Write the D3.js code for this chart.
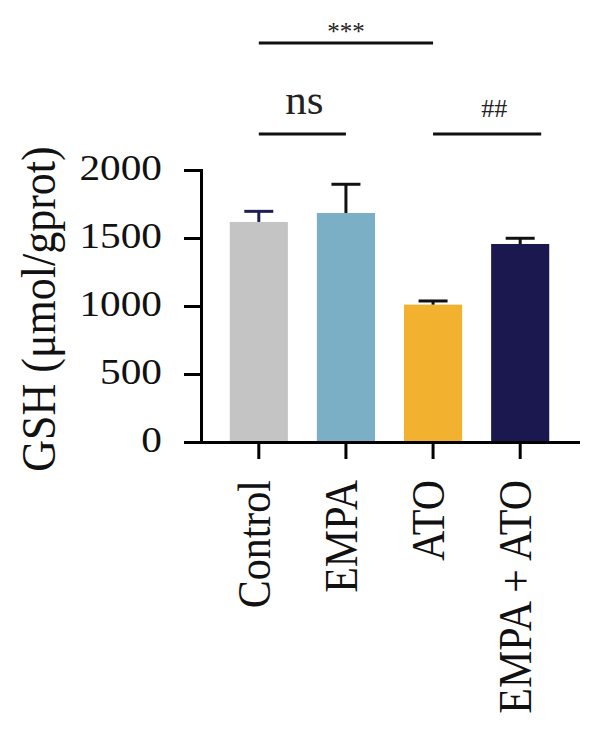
<!DOCTYPE html>
<html>
<head>
<meta charset="utf-8">
<script src="https://cdn.jsdelivr.net/npm/d3@7"></script>
<style>
  body { margin: 0; background: #fff; }
  svg { display: block; }
</style>
</head>
<body>
<div id="chart"></div>
<script>
// values
var groups = ["Control", "EMPA", "ATO", "EMPA + ATO"];
var means = [1618, 1684, 1010, 1456];
var sems = [78, 211, 27, 42];
var barColors = ["#c4c4c4", "#7aafc6", "#f2b12f", "#1b1850"];
var errColors = ["#1f1f55", "#111111", "#111111", "#111111"];
var yTicks = [0, 500, 1000, 1500, 2000];
var sigPairs = [["Control", "ATO"], ["Control", "EMPA"], ["ATO", "EMPA + ATO"]];
var sigLabels = ["***", "ns", "##"];

var width = 600, height = 752;
var font = "'Liberation Serif', 'Times New Roman', serif";

var svg = d3.select("#chart").append("svg")
    .attr("width", width)
    .attr("height", height);

svg.append("rect").attr("width", width).attr("height", height).attr("fill", "#fff");

var x = d3.scaleBand()
    .domain(groups)
    .range([201, 578])
    .paddingInner(0.333)
    .paddingOuter(0.33);

var y = d3.scaleLinear()
    .domain([0, 2000])
    .range([442, 170]);

var data = groups.map(function(g, i) {
    return { name: g, mean: means[i], sem: sems[i], color: barColors[i], ec: errColors[i] };
});

// bars
svg.selectAll("rect.bar")
    .data(data)
    .enter().append("rect")
    .attr("class", "bar")
    .attr("x", function(d) { return x(d.name); })
    .attr("width", x.bandwidth())
    .attr("y", function(d) { return y(d.mean); })
    .attr("height", function(d) { return y(0) - y(d.mean); })
    .attr("fill", function(d) { return d.color; });

// error bars (upper only)
var eb = svg.selectAll("g.err")
    .data(data)
    .enter().append("g")
    .attr("class", "err")
    .attr("stroke", function(d) { return d.ec; })
    .attr("stroke-width", 3);

eb.append("line")
    .attr("x1", function(d) { return x(d.name) + x.bandwidth() / 2; })
    .attr("x2", function(d) { return x(d.name) + x.bandwidth() / 2; })
    .attr("y1", function(d) { return y(d.mean); })
    .attr("y2", function(d) { return y(d.mean + d.sem); });

eb.append("line")
    .attr("x1", function(d) { return x(d.name) + x.bandwidth() / 2 - 14.5; })
    .attr("x2", function(d) { return x(d.name) + x.bandwidth() / 2 + 14.5; })
    .attr("y1", function(d) { return y(d.mean + d.sem); })
    .attr("y2", function(d) { return y(d.mean + d.sem); });

// y axis
var yAxis = svg.append("g")
    .attr("transform", "translate(201,0)")
    .call(d3.axisLeft(y).tickValues(yTicks).tickFormat(d3.format("d")).tickSize(17).tickSizeOuter(0));

yAxis.select(".domain").attr("stroke-width", 3).attr("stroke-linecap", "square");
yAxis.selectAll(".tick line").attr("stroke-width", 3);
yAxis.selectAll(".tick text")
    .attr("font-family", font)
    .attr("font-size", 35)
    .attr("fill", "#111")
    .attr("x", -39 / 1.18)
    .attr("dy", "0.26em")
    .attr("transform", "scale(1.18,1)");

// x axis
var xAxis = svg.append("g")
    .attr("transform", "translate(0,442)")
    .call(d3.axisBottom(x).tickSize(17).tickSizeOuter(0));

xAxis.select(".domain").attr("stroke-width", 3).attr("stroke-linecap", "square");
xAxis.selectAll(".tick line").attr("stroke-width", 3);
xAxis.selectAll(".tick text").remove();

svg.selectAll("text.xlab")
    .data(groups)
    .enter().append("text")
    .attr("class", "xlab")
    .attr("transform", function(d) {
        return "translate(" + (x(d) + x.bandwidth() / 2 + 11) + ",480) scale(1.12,1) rotate(-90)";
    })
    .attr("text-anchor", "end")
    .attr("font-family", font)
    .attr("font-size", 42)
    .attr("fill", "#111")
    .text(function(d) { return d; });

// y title
svg.append("text")
    .attr("transform", "translate(55,309) scale(1.1,1) rotate(-90)")
    .attr("text-anchor", "middle")
    .attr("font-family", font)
    .attr("font-size", 44)
    .attr("fill", "#111")
    .text("GSH (\u03bcmol/gprot)");

// significance brackets
var sigY = [43, 134, 134];
var sigExtend = [0, 0, 21];
var sigTextY = [40, 114, 117];
var sigTextDx = [0, 2, 7];
var sigSize = [25, 43, 26];

sigPairs.forEach(function(p, i) {
    var x1 = x(p[0]) + x.bandwidth() / 2;
    var x2 = x(p[1]) + x.bandwidth() / 2 + sigExtend[i];
    svg.append("line")
        .attr("x1", x1).attr("x2", x2)
        .attr("y1", sigY[i]).attr("y2", sigY[i])
        .attr("stroke", "#111")
        .attr("stroke-width", 3);
    svg.append("text")
        .attr("x", (x1 + x2) / 2 + sigTextDx[i])
        .attr("y", sigTextY[i])
        .attr("text-anchor", "middle")
        .attr("font-family", font)
        .attr("font-size", sigSize[i])
        .attr("fill", "#222")
        .text(sigLabels[i]);
});
</script>
</body>
</html>
